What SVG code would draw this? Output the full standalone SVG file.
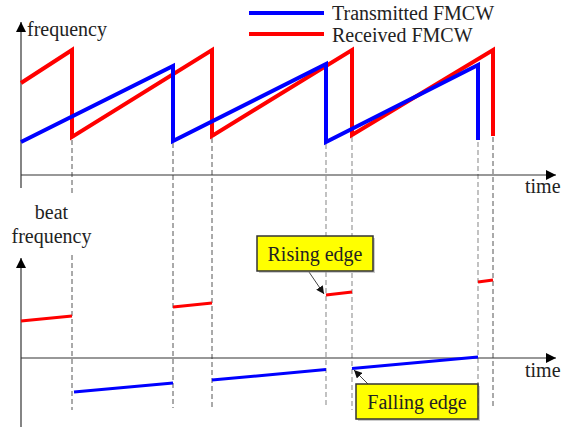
<svg xmlns="http://www.w3.org/2000/svg" width="570" height="427" viewBox="0 0 570 427" font-family="'Liberation Serif', serif">
<defs>
<marker id="ah" viewBox="0 0 10 10" refX="10" refY="5" markerWidth="10" markerHeight="10" markerUnits="userSpaceOnUse" orient="auto"><path d="M0,0 L10,5 L0,10 z" fill="#000"/></marker>
<marker id="ah2" viewBox="0 0 10 10" refX="10" refY="5" markerWidth="8" markerHeight="8" markerUnits="userSpaceOnUse" orient="auto"><path d="M0,0 L10,5 L0,10 z" fill="#111"/></marker>
</defs>
<style>
text{font-family:'Liberation Serif',serif;font-size:20px;fill:#222}
.ax{stroke:#333;stroke-width:1.2;fill:none}
.tx{stroke:#0000ff;stroke-width:4;fill:none;stroke-linejoin:miter}
.rx{stroke:#ff0000;stroke-width:4;fill:none;stroke-linejoin:miter}
.bt{stroke:#0000ff;stroke-width:3;fill:none}
.br{stroke:#ff0000;stroke-width:3;fill:none}
.d1{stroke:#555;stroke-width:1;stroke-dasharray:5,3;fill:none}
.d2{stroke:#999;stroke-width:1.2;stroke-dasharray:5,3;fill:none}
.box{fill:#ffff00;stroke:#333;stroke-width:1.5}
.sh{fill:#999;opacity:0.5}
.call{stroke:#444;stroke-width:1;fill:none}
</style>
<g id="connectors">
<g id="dashes">
<line class="d1" x1="72" y1="140" x2="72" y2="196"/>
<line class="d1" x1="72" y1="255" x2="72" y2="410"/>
<line class="d1" x1="173" y1="143" x2="173" y2="408"/>
<line class="d1" x1="212" y1="138" x2="212" y2="408"/>
<line class="d2" x1="326" y1="144" x2="326" y2="407"/>
<line class="d2" x1="352" y1="137" x2="352" y2="410"/>
<line class="d2" x1="478" y1="142" x2="478" y2="410"/>
<line class="d1" x1="493" y1="137" x2="493" y2="409"/>
</g>
<g id="axes">
<line class="ax" x1="21" y1="188" x2="21" y2="22" marker-end="url(#ah)"/>
<line class="ax" x1="21" y1="175" x2="556" y2="175" marker-end="url(#ah)"/>
<line class="ax" x1="21" y1="427" x2="21" y2="258" marker-end="url(#ah)"/>
<line class="ax" x1="21" y1="358" x2="556" y2="358" marker-end="url(#ah)"/>
</g>
<g id="waves">
<polyline class="rx" points="21,83 72,50 72,137 212,50 212,136 352,50 352,135 493,50 493,136"/>
<polyline class="tx" points="21,142 173,66 173,141 326,64 326,142 478,65 478,140"/>
</g>
<g id="beat">
<line class="br" x1="21" y1="321" x2="72" y2="316"/>
<line class="br" x1="173" y1="307" x2="212" y2="303"/>
<line class="br" x1="326" y1="295" x2="352" y2="292"/>
<line class="br" x1="478" y1="282" x2="493" y2="280"/>
<line class="bt" x1="74" y1="392" x2="173" y2="383"/>
<line class="bt" x1="212" y1="380" x2="326" y2="369.5"/>
<line class="bt" x1="352" y1="368.5" x2="478" y2="357"/>
</g>
<g id="callout-arrows">
<line class="call" x1="309" y1="272" x2="324" y2="294" marker-end="url(#ah2)"/>
<line class="call" x1="368" y1="384" x2="354" y2="370" marker-end="url(#ah2)"/>
</g>
</g>
<g id="legend">
<line x1="249" y1="13" x2="324" y2="13" stroke="#0000ff" stroke-width="4"/>
<line x1="249" y1="34" x2="324" y2="34" stroke="#ff0000" stroke-width="4"/>
<text x="332" y="20">Transmitted FMCW</text>
<text x="332" y="42">Received FMCW</text>
</g>
<g id="labels">
<text x="27" y="36">frequency</text>
<text x="525" y="193">time</text>
<text x="51.5" y="219" text-anchor="middle">beat</text>
<text x="51.5" y="243" text-anchor="middle">frequency</text>
<text x="525" y="377">time</text>
</g>
<g id="rising-edge">
<rect class="sh" x="259" y="238" width="116" height="35"/>
<rect class="box" x="257" y="236" width="116" height="35"/>
<text x="315" y="261" text-anchor="middle">Rising edge</text>
</g>
<g id="falling-edge">
<rect class="sh" x="358" y="386" width="122" height="35"/>
<rect class="box" x="356" y="384" width="122" height="35"/>
<text x="417" y="409" text-anchor="middle">Falling edge</text>
</g>
</svg>
